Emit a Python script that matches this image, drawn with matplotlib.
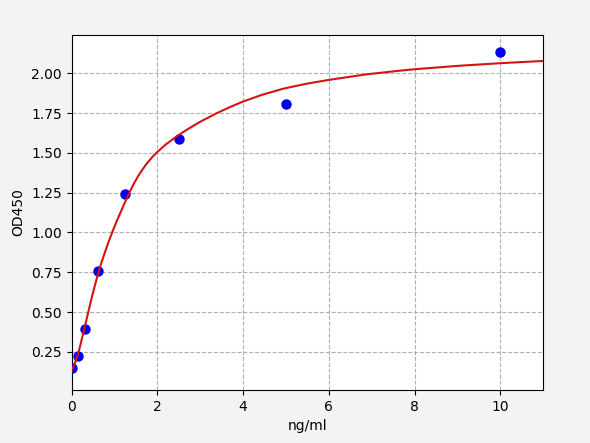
import numpy as np
import matplotlib
matplotlib.use("Agg")
import matplotlib.pyplot as plt

# standard points (concentration ng/ml, OD450)
conc = [0, 0.156, 0.3125, 0.625, 1.25, 2.5, 5, 10]
od = [0.148, 0.224, 0.391, 0.755, 1.244, 1.586, 1.805, 2.132]

# fitted curve
curve_x = [0, 0.08, 0.168, 0.307, 0.462, 0.55, 0.618, 0.70, 0.788, 0.87, 0.951,
           1.053, 1.15, 1.247, 1.35, 1.441, 1.55, 1.65, 1.753, 1.88, 2.0, 2.2,
           2.452, 2.7, 3.0, 3.38, 3.7, 4.0, 4.45, 4.94, 5.5, 6.0, 6.88, 7.66,
           8.0, 9.0, 10.0, 11.0]
curve_y = [0.13, 0.18, 0.25, 0.404, 0.58, 0.672, 0.74, 0.812, 0.882, 0.945, 1.002,
           1.07, 1.13, 1.19, 1.25, 1.30, 1.352, 1.393, 1.432, 1.472, 1.505, 1.553,
           1.603, 1.647, 1.695, 1.748, 1.788, 1.822, 1.865, 1.903, 1.935, 1.958,
           1.993, 2.016, 2.025, 2.046, 2.063, 2.077]

xticks = [0, 2, 4, 6, 8, 10]
yticks = [0.25, 0.5, 0.75, 1.0, 1.25, 1.5, 1.75, 2.0]

fig = plt.figure(figsize=(5.9, 4.43), dpi=100, facecolor="#f3f3f3")
ax = fig.add_axes([0.1212, 0.1196, 0.7996, 0.8014])

ax.plot(conc, od, "o", color="#0000ee", markersize=6.5, zorder=3)
ax.plot(curve_x, curve_y, color="#d41414", linewidth=1.5, zorder=4,
        solid_joinstyle="round")

ax.set_xlim(0, 11)
ax.set_ylim(0.01, 2.24)
ax.set_xticks(xticks)
ax.set_yticks(yticks)
ax.set_yticklabels(["%.2f" % v for v in yticks])
ax.grid(True, linestyle="--", color="#b0b0b0", linewidth=0.8)
ax.set_axisbelow(True)
ax.set_xlabel("ng/ml")
ax.set_ylabel("OD450")

fig.savefig("out.png", dpi=100, facecolor=fig.get_facecolor())
